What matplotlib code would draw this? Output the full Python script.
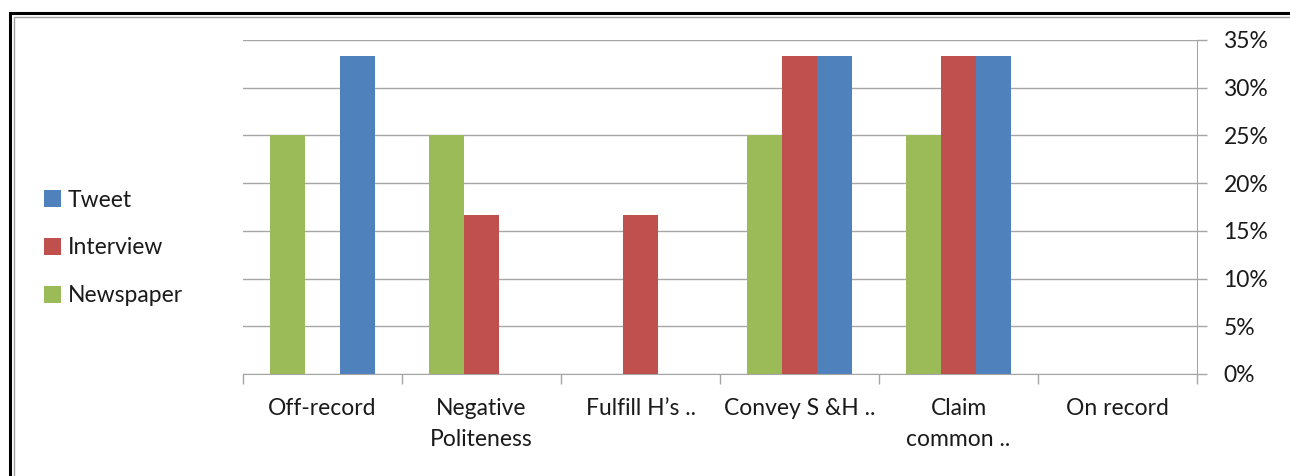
import matplotlib
matplotlib.use("Agg")
import matplotlib.pyplot as plt
import matplotlib.patches as patches
import numpy as np
from matplotlib.ticker import FuncFormatter, FixedLocator

plt.rcParams['font.family'] = ['Lato', 'DejaVu Sans']

categories = ["Off-record", "Negative\nPoliteness", "Fulfill H\u2019s ..",
              "Convey S &H ..", "Claim\ncommon ..", "On record"]
newspaper = [25.0, 25.0, 0.0, 25.0, 25.0, 0.0]
interview = [0.0, 16.67, 16.67, 33.33, 33.33, 0.0]
tweet = [33.33, 0.0, 0.0, 33.33, 33.33, 0.0]

W, H = 1290, 476
fs = 16.5
fig = plt.figure(figsize=(W / 100, H / 100), dpi=100)

# chart frame (double line, runs off the right/bottom edge)
fig.patches.append(patches.Rectangle((10 / W, -0.1), 1.2, (H - 13) / H + 0.1,
                                     transform=fig.transFigure, fill=False,
                                     edgecolor='black', linewidth=2.2))
fig.patches.append(patches.Rectangle((13.5 / W, -0.1), 1.2, (H - 16.5) / H + 0.1,
                                     transform=fig.transFigure, fill=False,
                                     edgecolor='#a0a0a0', linewidth=1.0))

ax = fig.add_axes([243 / W, 1 - 374 / H, (1197 - 243) / W, (374 - 40) / H])

x = np.arange(len(categories))
bw = 0.22
gray = '#a6a6a6'
ax.bar(x - bw, newspaper, bw, color='#9BBB59', label='Newspaper', zorder=3)
ax.bar(x, interview, bw, color='#C0504D', label='Interview', zorder=3)
ax.bar(x + bw, tweet, bw, color='#4F81BD', label='Tweet', zorder=3)

ax.set_xlim(-0.5, len(categories) - 0.5)
ax.set_ylim(0, 35)
ax.yaxis.tick_right()
ax.set_yticks(np.arange(0, 36, 5))
ax.yaxis.set_major_formatter(FuncFormatter(lambda v, p: f"{int(v)}%"))
ax.grid(axis='y', color=gray, linewidth=1, zorder=0)

ax.set_xticks(x)
ax.set_xticklabels(categories, fontsize=fs, color='#1a1a1a', linespacing=1.6)
ax.tick_params(axis='x', length=0, pad=17)
ax.xaxis.set_minor_locator(FixedLocator(np.arange(-0.5, len(categories), 1)))
ax.tick_params(axis='x', which='minor', length=7, color=gray, width=1)
ax.tick_params(axis='y', length=7, color=gray, width=1, labelsize=fs,
               labelcolor='#1a1a1a', pad=12)

for s in ['top', 'left']:
    ax.spines[s].set_visible(False)
ax.spines['right'].set_color(gray)
ax.spines['bottom'].set_color(gray)

handles, labels = ax.get_legend_handles_labels()
leg = fig.legend(handles[::-1], labels[::-1], loc='center left',
                 bbox_to_anchor=(23 / W, 1 - 248 / H), frameon=False,
                 fontsize=fs, handlelength=0.75, handleheight=0.75,
                 handletextpad=0.3, labelspacing=1.17)
for t in leg.get_texts():
    t.set_color('#1a1a1a')

fig.savefig("out.png", dpi=100)
